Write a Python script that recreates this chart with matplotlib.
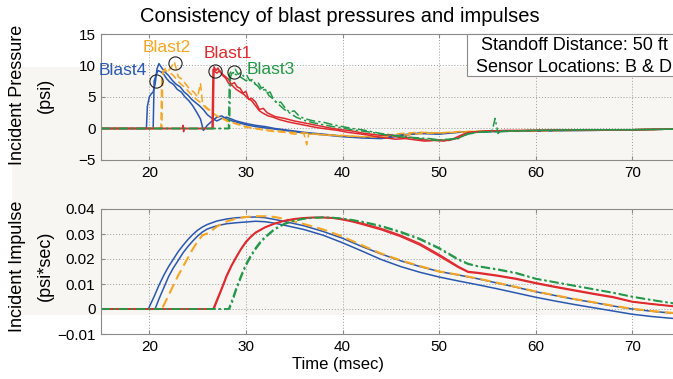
import matplotlib
matplotlib.use("Agg")
import matplotlib.pyplot as plt
from matplotlib.patches import Rectangle

plt.rcParams['font.family'] = ['Liberation Sans', 'DejaVu Sans']

# ---------------- data ----------------
# Incident pressure (psi) vs time (msec)
b4a_t = [15, 19.7, 19.8, 20.0, 20.2, 20.4, 20.6, 20.8, 21.0, 21.3, 21.6, 22.0, 22.4, 22.8, 23.2, 23.6, 24.0, 24.4, 24.8, 25.2,
         25.6, 26.0, 26.5, 27.0, 27.5, 28.0, 29, 30, 31, 32, 33, 34, 35, 36, 38, 40, 42, 44, 46, 48, 50, 52, 54, 56, 58, 60,
         63, 66, 70, 74, 80]
b4a_p = [0, 0, 3.5, 5.0, 5.5, 5.8, 7.0, 9.5, 10.3, 9.6, 9.0, 8.4, 7.6, 7.0, 6.6, 5.8, 5.3, 4.6, 4.1, 3.6,
         3.0, 2.2, 1.6, 1.2, 1.6, 1.8, 1.2, 0.8, 0.5, 0.3, 0.0, -0.2, -0.4, -0.6, -0.9, -1.2, -1.4, -1.5, -1.0, -0.8, -0.9,
         -0.6, -0.5, -0.5, -0.4, -0.4, -0.3, -0.3, -0.2, -0.1, 0]
b4b_t = [15, 20.4, 20.5, 20.7, 20.9, 21.2, 21.5, 21.8, 22.1, 22.5, 22.9, 23.3, 23.7, 24.1, 24.5, 24.9, 25.3, 25.6, 26.0,
         26.5, 27.0, 27.5, 28, 29, 30, 31, 32, 34, 36, 38, 40, 42, 44, 46, 48, 50, 52, 54, 56, 60, 65, 70, 74, 80]
b4b_p = [0, 0, 7.5, 8.5, 9.2, 9.0, 8.6, 7.9, 7.4, 7.0, 6.2, 5.8, 5.0, 4.4, 3.6, 2.6, 1.5, -0.3, 0.5,
         1.2, 1.8, 2.0, 1.5, 1.0, 0.6, 0.3, 0.1, -0.3, -0.7, -1.0, -1.3, -1.5, -1.6, -1.2, -0.7, -0.8, -0.6, -0.5, -0.4,
         -0.4, -0.3, -0.2, -0.1, 0]
b2a_t = [15, 21.3, 21.4, 21.7, 22.0, 22.3, 22.6, 22.8, 23.0, 23.4, 23.8, 24.2, 24.6, 25.0, 25.3, 25.5, 25.8, 26.2, 26.6,
         27.0, 27.5, 28, 29, 30, 31, 32, 33, 34, 35, 36, 38, 40, 42, 44, 46, 48, 50, 52, 55, 60, 65, 70, 74, 80]
b2a_p = [0, 0, 9.0, 9.6, 9.2, 9.8, 10.6, 9.4, 8.2, 7.8, 7.0, 6.2, 5.8, 5.0, 7.2, 4.2, 3.5, 3.0, 2.4,
         2.0, 1.6, 1.2, 0.8, 0.2, 0.0, -0.3, -0.5, -0.6, -0.9, -0.7, -1.0, -1.2, -1.3, -1.4, -1.1, -0.8, -0.7, -0.6, -0.4,
         -0.4, -0.3, -0.2, -0.1, 0]
b2b_t = [15, 21.2, 21.3, 21.6, 21.9, 22.2, 22.5, 22.9, 23.3, 23.7, 24.1, 24.5, 24.9, 25.4, 25.9, 26.4, 27, 27.6, 28.2,
         29, 30, 31, 32, 34, 36, 36.3, 36.5, 37, 38, 40, 42, 44, 46, 48, 50, 52, 55, 60, 65, 70, 74, 80]
b2b_p = [0, 0, 8.5, 9.3, 9.0, 8.8, 8.4, 7.6, 7.0, 6.5, 5.8, 5.2, 4.6, 4.0, 3.2, 2.6, 2.0, 1.6, 1.2,
         0.7, 0.3, 0.0, -0.2, -0.5, -0.8, -2.6, -0.9, -0.9, -1.0, -1.1, -1.3, -1.2, -0.8, -0.6, -0.7, -0.5, -0.4, -0.3,
         -0.2, -0.2, -0.1, 0]
b1a_t = [15, 23.4, 23.5, 23.55, 23.6, 26.6, 26.7, 26.9, 27.1, 27.3, 27.6, 27.9, 28.2, 28.5, 28.8, 29.1, 29.4, 29.7, 30.0,
         30.3, 30.6, 31.0, 31.4, 31.8, 32.2, 32.6, 33, 34, 35, 36, 37, 38, 39, 40, 41, 42, 43, 44, 45, 46, 47, 48, 49,
         50, 51, 52, 53, 54, 55, 57, 60, 65, 70, 74, 80]
b1a_p = [0, 0, 0.5, -0.5, 0, 0, 9.8, 9.2, 9.6, 9.0, 8.6, 8.2, 7.8, 7.0, 7.3, 6.6, 6.4, 5.6, 5.9,
         4.6, 4.8, 4.2, 3.0, 3.2, 2.5, 2.2, 1.9, 1.6, 1.2, 0.9, 0.6, 0.3, 0.0, -0.2, -0.4, -0.7, -0.9, -1.1, -1.0, -1.5,
         -1.4, -1.7, -1.9, -1.8, -1.9, -1.5, -0.6, -0.5, -0.4, -0.3, -0.3, -0.2, -0.2, -0.1, 0]
b1b_t = [15, 26.5, 26.6, 26.8, 27.0, 27.3, 27.6, 27.9, 28.2, 28.6, 29.0, 29.4, 29.8, 30.2, 30.6, 31.0, 31.4, 31.8, 32.3,
         32.8, 33.5, 34.5, 35.5, 36.5, 37.5, 38.5, 39.5, 40.5, 41.5, 42.5, 43.5, 44.5, 45.5, 46.5, 47.5, 48.5, 49.5,
         50.5, 51.5, 52.5, 53.5, 55, 57, 60, 65, 70, 74, 80]
b1b_p = [0, 0, 9.4, 9.0, 8.8, 9.2, 8.4, 8.0, 7.2, 6.8, 6.2, 5.8, 5.4, 4.8, 4.4, 3.6, 2.8, 2.4, 2.0,
         1.8, 1.4, 1.0, 0.7, 0.4, 0.1, -0.1, -0.3, -0.6, -0.8, -1.0, -1.3, -1.5, -1.7, -1.6, -1.8, -2.0, -1.9,
         -2.0, -1.6, -0.9, -0.6, -0.4, -0.4, -0.3, -0.2, -0.2, -0.1, 0]
b3a_t = [15, 28.2, 28.3, 28.5, 28.7, 28.9, 29.2, 29.5, 29.8, 30.1, 30.4, 30.7, 31.0, 31.3, 31.6, 31.9, 32.2, 32.5, 32.8,
         33.2, 33.6, 34.0, 34.5, 35, 35.5, 36, 37, 38, 39, 40, 41, 42, 43, 44, 45, 46, 47, 48, 49, 50, 51, 52, 53, 54,
         55, 55.5, 55.8, 56.1, 56.4, 57, 60, 65, 70, 74, 80]
b3a_p = [0, 0, 8.6, 9.2, 8.8, 9.4, 8.6, 8.9, 8.2, 8.4, 7.6, 7.8, 7.0, 7.2, 6.4, 6.6, 5.6, 5.8, 4.8,
         4.0, 4.2, 3.4, 2.6, 2.8, 2.0, 1.6, 1.2, 1.0, 0.6, 0.3, 0.0, -0.2, -0.5, -0.8, -1.0, -1.2, -1.4, -1.5, -1.6,
         -1.8, -1.7, -1.6, -0.8, -0.6, -0.5, -0.3, 1.6, -0.8, -0.3, -0.4, -0.3, -0.2, -0.2, -0.1, 0]
b3b_t = [15, 28.3, 28.4, 28.6, 28.9, 29.2, 29.6, 30.0, 30.4, 30.8, 31.2, 31.6, 32.0, 32.4, 32.9, 33.4, 34.0, 34.6, 35.2,
         36, 37, 38, 39, 40, 41, 42, 43, 44, 45, 46, 47, 48, 49, 50, 51, 52, 53, 54, 56, 58, 60, 65, 70, 74, 80]
b3b_p = [0, 0, 8.2, 8.9, 8.6, 8.4, 8.0, 7.6, 7.8, 7.2, 6.8, 6.0, 6.2, 5.2, 4.6, 3.8, 3.0, 2.4, 1.8,
         1.3, 0.9, 0.6, 0.3, 0.1, -0.2, -0.4, -0.6, -0.9, -1.1, -1.3, -1.5, -1.6, -1.8, -1.9, -1.8, -1.5, -0.9, -0.6,
         -0.5, -0.4, -0.3, -0.2, -0.2, -0.1, 0]

# Incident impulse (psi*sec) vs time (msec)
i4a_t = [15, 19.9, 20.5, 21.0, 21.5, 22.0, 22.5, 23.0, 23.5, 24.0, 24.5, 25.0, 25.5, 26, 27, 28, 29, 30, 31, 32, 33, 34,
         36, 38, 40, 42, 44, 46, 48, 50, 52, 54, 56, 58, 60, 62, 64, 66, 68, 70, 72, 74, 77, 80]
i4a_v = [0, 0, 0.005, 0.0095, 0.0135, 0.017, 0.020, 0.023, 0.0255, 0.0278, 0.0298, 0.0315, 0.0328, 0.0338, 0.0352,
         0.0360, 0.0365, 0.0367, 0.0368, 0.0365, 0.0358, 0.0350, 0.0333, 0.031, 0.0283, 0.025, 0.022, 0.0193, 0.017,
         0.0150, 0.0136, 0.0121, 0.0104, 0.0087, 0.0069, 0.0054, 0.0039, 0.0026, 0.0012, 0.0, -0.0009, -0.0016,
         -0.0026, -0.0036]
i4b_t = [15, 20.6, 21.0, 21.5, 22.0, 22.5, 23.0, 23.5, 24.0, 24.5, 25.0, 25.5, 26, 27, 28, 29, 30, 31, 32, 33, 34, 36,
         38, 40, 42, 44, 46, 48, 50, 52, 54, 56, 58, 60, 62, 64, 66, 68, 70, 72, 74, 77, 80]
i4b_v = [0, 0, 0.004, 0.0085, 0.013, 0.0165, 0.0195, 0.0225, 0.025, 0.0272, 0.0292, 0.0308, 0.032, 0.0333, 0.0341,
         0.0345, 0.0348, 0.0351, 0.0349, 0.0343, 0.0335, 0.0318, 0.0295, 0.0265, 0.0232, 0.0198, 0.017, 0.0147,
         0.0128, 0.0112, 0.0097, 0.0081, 0.0064, 0.0047, 0.0032, 0.0018, 0.0005, -0.0008, -0.0021, -0.003, -0.0037,
         -0.0047, -0.0057]
i2_t = [15, 21.3, 22.0, 22.5, 23.0, 23.5, 24.0, 24.5, 25.0, 25.5, 26.0, 26.5, 27, 28, 29, 30, 31, 32, 33, 34, 36, 38,
        40, 42, 44, 46, 48, 50, 52, 54, 56, 58, 60, 62, 64, 66, 68, 70, 72, 74, 77, 80]
i2_v = [0, 0, 0.0055, 0.0095, 0.0135, 0.017, 0.0205, 0.024, 0.027, 0.0295, 0.0302, 0.0315, 0.033, 0.0350, 0.0362,
        0.0368, 0.0371, 0.0371, 0.0368, 0.0360, 0.034, 0.0318, 0.029, 0.0255, 0.0222, 0.0195, 0.0172, 0.0150, 0.0137,
        0.0122, 0.0105, 0.0088, 0.0070, 0.0055, 0.0040, 0.0027, 0.0013, 0.0001, -0.0008, -0.0015, -0.0025, -0.0035]
i1a_t = [15, 26.6, 27.0, 27.5, 28.0, 28.5, 29.0, 29.5, 30.0, 30.5, 31, 32, 33, 34, 35, 36, 37, 38, 39, 40, 41, 42, 44,
         46, 48, 50, 52, 53, 54, 56, 58, 60, 62, 64, 66, 68, 70, 72, 74, 77, 80]
i1a_v = [0, 0, 0.0038, 0.0085, 0.0135, 0.0175, 0.021, 0.0242, 0.027, 0.029, 0.0307, 0.0328, 0.0343, 0.0354, 0.0361,
         0.0365, 0.0367, 0.0367, 0.0365, 0.036, 0.0352, 0.0343, 0.0322, 0.0295, 0.0262, 0.0218, 0.0170, 0.0150,
         0.0146, 0.0135, 0.0122, 0.0105, 0.0090, 0.0076, 0.0062, 0.0049, 0.0030, 0.0021, 0.0013, 0.0, -0.0012]
i1b_t = [15, 26.7, 27.0, 27.5, 28.0, 28.5, 29.0, 29.5, 30.0, 30.5, 31, 32, 33, 34, 35, 36, 37, 38, 39, 40, 41, 42, 44,
         46, 48, 50, 52, 53, 54, 56, 58, 60, 62, 64, 66, 68, 70, 72, 74, 77, 80]
i1b_v = [0, 0, 0.0030, 0.0078, 0.0128, 0.0170, 0.0205, 0.0238, 0.0266, 0.0287, 0.0304, 0.0326, 0.0341, 0.0352, 0.0359,
         0.0363, 0.0365, 0.0365, 0.0363, 0.0357, 0.0349, 0.0339, 0.0317, 0.0290, 0.0256, 0.0212, 0.0166, 0.0147,
         0.0143, 0.0132, 0.0119, 0.0102, 0.0087, 0.0073, 0.0059, 0.0046, 0.0028, 0.0019, 0.0011, -0.0002, -0.0014]
i3a_t = [15, 28.2, 28.5, 29.0, 29.5, 30.0, 30.5, 31, 31.5, 32, 33, 34, 35, 36, 37, 38, 39, 40, 41, 42, 43, 44, 46, 48,
         50, 52, 53, 54, 56, 58, 60, 62, 64, 66, 68, 70, 72, 74, 77, 80]
i3a_v = [0, 0, 0.003, 0.0085, 0.0135, 0.018, 0.0215, 0.0245, 0.027, 0.029, 0.0322, 0.0342, 0.0355, 0.0362, 0.0366,
         0.0367, 0.0366, 0.0362, 0.0357, 0.0350, 0.0342, 0.0333, 0.0310, 0.0282, 0.0245, 0.0200, 0.0182, 0.0172,
         0.0160, 0.0145, 0.0122, 0.0108, 0.0094, 0.0080, 0.0066, 0.0050, 0.0037, 0.0025, 0.0008, -0.0008]
i3b_t = [15, 28.3, 28.6, 29.0, 29.5, 30.0, 30.5, 31, 31.5, 32, 33, 34, 35, 36, 37, 38, 39, 40, 41, 42, 43, 44, 46, 48,
         50, 52, 53, 54, 56, 58, 60, 62, 64, 66, 68, 70, 72, 74, 77, 80]
i3b_v = [0, 0, 0.0028, 0.0075, 0.0126, 0.0172, 0.0208, 0.0238, 0.0264, 0.0285, 0.0318, 0.0339, 0.0352, 0.0360,
         0.0364, 0.0366, 0.0365, 0.0361, 0.0355, 0.0348, 0.0339, 0.0330, 0.0306, 0.0278, 0.0241, 0.0196, 0.0179,
         0.0170, 0.0157, 0.0142, 0.0120, 0.0106, 0.0092, 0.0078, 0.0064, 0.0048, 0.0035, 0.0023, 0.0006, -0.0010]

# peak markers (circles) and blast labels
peak_t = [20.7, 22.7, 26.8, 28.8]
peak_p = [7.6, 10.4, 9.2, 8.9]
blast_names = ['Blast4', 'Blast2', 'Blast1', 'Blast3']
label_t = [17.3, 21.8, 28.1, 32.6]
label_p = [9.2, 12.9, 11.9, 9.4]

xticks = [20, 30, 40, 50, 60, 70]
p_ticks = [-5, 0, 5, 10, 15]
i_ticks = [-0.01, 0, 0.01, 0.02, 0.03, 0.04]
i_ticklabels = ['\u22120.01', '0', '0.01', '0.02', '0.03', '0.04']

# ---------------- styles ----------------
C_BLUE = '#2a58b0'
C_ORANGE = '#f6a623'
C_RED = '#df2a2f'
C_GREEN = '#24984a'
LW = 1.1
blast_colors = [C_BLUE, C_ORANGE, C_RED, C_GREEN]
DASH = (5, 2.5)
DASHDOT = (6, 2, 1.5, 2)

fig = plt.figure(figsize=(6.73, 3.79), dpi=100)
W, H = 673.0, 379.0

# faint off-white band behind the plots
fig.patches.append(Rectangle((12 / W, 1 - 315 / H), 1.0, (315 - 67) / H, transform=fig.transFigure,
                             facecolor='#f7f6f3', edgecolor='none', zorder=-10))

x0 = 101 / W
axw = 65 * 9.66 / W
ax1 = fig.add_axes([x0, 1 - 160 / H, axw, 126 / H])
ax2 = fig.add_axes([x0, 1 - 334 / H, axw, 125 / H])

for ax in (ax1, ax2):
    ax.set_facecolor('none')
    ax.set_xlim(15, 80)
    ax.set_xticks(xticks)
    for s in ax.spines.values():
        s.set_color('#8a8a8a')
        s.set_linewidth(0.8)
    ax.tick_params(direction='in', length=3, color='#8a8a8a', labelsize=11, pad=4,
                   top=True, right=True, labelcolor='black')
    ax.grid(True, linestyle=(0, (1, 2)), color='#9a9a9a', linewidth=0.7)
    ax.set_axisbelow(True)

ax1.set_ylim(-5, 15)
ax1.set_yticks(p_ticks)
ax1.set_yticklabels(['\u22125', '0', '5', '10', '15'])
ax2.set_ylim(-0.01, 0.04)
ax2.set_yticks(i_ticks)
ax2.set_yticklabels(i_ticklabels)

# pressure traces
ax1.plot(b4a_t, b4a_p, color=C_BLUE, lw=LW)
ax1.plot(b4b_t, b4b_p, color=C_BLUE, lw=LW)
ax1.plot(b2a_t, b2a_p, color=C_ORANGE, lw=LW, dashes=DASH)
ax1.plot(b2b_t, b2b_p, color=C_ORANGE, lw=LW, dashes=DASH)
ax1.plot(b1a_t, b1a_p, color=C_RED, lw=LW)
ax1.plot(b1b_t, b1b_p, color=C_RED, lw=LW)
ax1.plot(b3a_t, b3a_p, color=C_GREEN, lw=LW, dashes=DASHDOT)
ax1.plot(b3b_t, b3b_p, color=C_GREEN, lw=LW, dashes=DASHDOT)

ax1.plot(peak_t, peak_p, linestyle='none', marker='o', ms=9.5, mfc='none', mec='#222222', mew=0.8, zorder=5)
for name, tx, ty, c in zip(blast_names, label_t, label_p, blast_colors):
    ax1.text(tx, ty, name, color=c, fontsize=12.5, ha='center', va='center', zorder=6)

# info box
fig.patches.append(Rectangle((467 / W, 1 - 76 / H), 0.5, (76 - 34) / H, transform=fig.transFigure,
                             facecolor='white', edgecolor='#8a8a8a', linewidth=0.8, zorder=5))
fig.text(481 / W, 1 - 45 / H, 'Standoff Distance: 50 ft', fontsize=13, ha='left', va='center', zorder=6)
fig.text(476 / W, 1 - 67 / H, 'Sensor Locations: B & D', fontsize=13, ha='left', va='center', zorder=6)

# impulse traces
ax2.plot(i4a_t, i4a_v, color=C_BLUE, lw=LW)
ax2.plot(i4b_t, i4b_v, color=C_BLUE, lw=LW)
ax2.plot(i2_t, i2_v, color=C_ORANGE, lw=1.5, dashes=DASH)
ax2.plot(i1a_t, i1a_v, color=C_RED, lw=LW)
ax2.plot(i1b_t, i1b_v, color=C_RED, lw=LW)
ax2.plot(i3a_t, i3a_v, color=C_GREEN, lw=LW, dashes=DASHDOT)
ax2.plot(i3b_t, i3b_v, color=C_GREEN, lw=LW, dashes=DASHDOT)

# titles and labels
fig.text(340 / W, 1 - 17 / H, 'Consistency of blast pressures and impulses', fontsize=14.5, ha='center', va='center')
fig.text(18 / W, 1 - 95 / H, 'Incident Pressure', fontsize=13, rotation=90, ha='center', va='center')
fig.text(45 / W, 1 - 95 / H, '(psi)', fontsize=13, rotation=90, ha='center', va='center')
fig.text(18 / W, 1 - 266 / H, 'Incident Impulse', fontsize=13, rotation=90, ha='center', va='center')
fig.text(45 / W, 1 - 266 / H, '(psi*sec)', fontsize=13, rotation=90, ha='center', va='center')
fig.text(338 / W, 1 - 365 / H, 'Time (msec)', fontsize=12, ha='center', va='center')

fig.savefig('out.png', dpi=100)
